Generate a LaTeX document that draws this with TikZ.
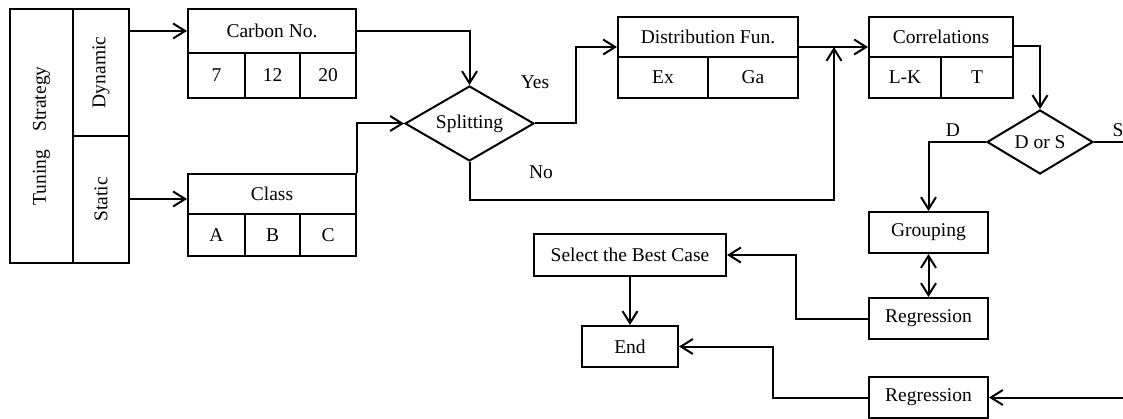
\documentclass[tikz,border=0pt]{standalone}
\usepackage{fontspec}
\setmainfont{Liberation Serif}
\usepackage{graphicx}
\usetikzlibrary{arrows.meta,shapes.geometric,calc}

\begin{document}
\begin{tikzpicture}[x=1pt,y=-1pt,
  every node/.style={font=\fontsize{19.5}{23}\selectfont},
  cell/.style={draw, line width=2pt, rectangle, inner sep=0pt, anchor=center},
  decision/.style={draw, line width=2pt, diamond, inner sep=1pt, anchor=center},
  arr/.style={line width=2pt, -{Straight Barb[length=12pt,width=15pt]}},
  dblarr/.style={line width=2pt, {Straight Barb[length=12pt,width=15pt]}-{Straight Barb[length=12pt,width=15pt]}},
  lbl/.style={inner sep=0pt}
]
\useasboundingbox (0,0) rectangle (1123,419);
\clip (0,0) rectangle (1123,419);

% strategy column
\node[cell, minimum width=63pt, minimum height=254pt] (ts) at (41.5,136) {\rotatebox{90}{Tuning\hspace{0.95em}Strategy}};
\node[cell, minimum width=56pt, minimum height=127pt] (dyn) at (101,72.5) {\rotatebox{90}{Dynamic}};
\node[cell, minimum width=56pt, minimum height=127pt] (sta) at (101,199.5) {\rotatebox{90}{Static}};

% carbon number table
\node[cell, minimum width=168pt, minimum height=44pt] (carbonh) at (272,31) {Carbon No.};
\node[cell, minimum width=57pt, minimum height=45pt] (c7) at (216.5,75.5) {7};
\node[cell, minimum width=55pt, minimum height=45pt] (c12) at (272.5,75.5) {12};
\node[cell, minimum width=56pt, minimum height=45pt] (c20) at (328,75.5) {20};

% class table
\node[cell, minimum width=168pt, minimum height=40pt] (classh) at (272,194) {Class};
\node[cell, minimum width=57pt, minimum height=42pt] (ca) at (216.5,235) {A};
\node[cell, minimum width=55pt, minimum height=42pt] (cb) at (272.5,235) {B};
\node[cell, minimum width=56pt, minimum height=42pt] (cc) at (328,235) {C};

% splitting decision
\node[decision, aspect=1.72, minimum width=129pt, minimum height=75pt] (split) at (469.5,123.5) {Splitting};

% distribution function table
\node[cell, minimum width=180pt, minimum height=40pt] (disth) at (708,37) {Distribution Fun.};
\node[cell, minimum width=90pt, minimum height=41pt] (ex) at (663,77.5) {Ex};
\node[cell, minimum width=90pt, minimum height=41pt] (ga) at (753,77.5) {Ga};

% correlations table
\node[cell, minimum width=144pt, minimum height=40pt] (corrh) at (941,37) {Correlations};
\node[cell, minimum width=72pt, minimum height=41pt] (lk) at (905,77.5) {L-K};
\node[cell, minimum width=72pt, minimum height=41pt] (tt) at (977,77.5) {T};

% D or S decision
\node[decision, aspect=1.66, minimum width=106pt, minimum height=64pt] (dors) at (1040,142) {D or S};

% lower boxes
\node[cell, minimum width=119pt, minimum height=41pt] (group) at (928.5,232.5) {Grouping};
\node[cell, minimum width=119pt, minimum height=41pt] (reg1) at (928.5,318.5) {Regression};
\node[cell, minimum width=119pt, minimum height=41pt] (reg2) at (928.5,397.5) {Regression};
\node[cell, minimum width=192pt, minimum height=42pt] (select) at (630,255) {Select the Best Case};
\node[cell, minimum width=96pt, minimum height=41pt] (endbox) at (630,346.5) {End};

% branch labels
\node[lbl] (yes) at (535,82) {Yes};
\node[lbl] (no) at (541,172) {No};
\node[lbl] (labD) at (953,130) {D};
\node[lbl] (labS) at (1118,130) {S};

% helper points on the flow lines
\coordinate (classin) at ($(classh.west)+(0,5)$);
\coordinate (distin) at ($(disth.west)+(0,10)$);
\coordinate (distout) at ($(disth.east)+(0,10)$);
\coordinate (join) at ($(disth.east)+(35,10)$);
\coordinate (corrin) at ($(corrh.west)+(0,10)$);
\coordinate (corrout) at ($(corrh.east)+(0,9)$);

% connectors
\draw[arr] (dyn.east |- carbonh.west) -- (carbonh.west);
\draw[arr] (sta.east |- classin) -- (classin);
\draw[arr] (carbonh.east) -| (split.north);
\draw[arr] (classh.north east) |- (split.west);
\draw[arr] (split.east) -- ++(41,0) |- (distin);
\draw[arr] (split.south) -- ++(0,38) -| (join);
\draw[arr] (distout) -- (corrin);
\draw[arr] (corrout) -| (dors.north);
\draw[arr] (dors.west) -| (group.north);
\draw[arr] (dors.east) -- ++(60,0) |- (reg2.east);
\draw[dblarr] (group.south) -- (reg1.north);
\draw[arr] (reg1.west) -- ++(-72,0) |- (select.east);
\draw[arr] (select.south) -- (endbox.north);
\draw[arr] (reg2.west) -- ++(-95,0) |- (endbox.east);
\end{tikzpicture}
\end{document}
